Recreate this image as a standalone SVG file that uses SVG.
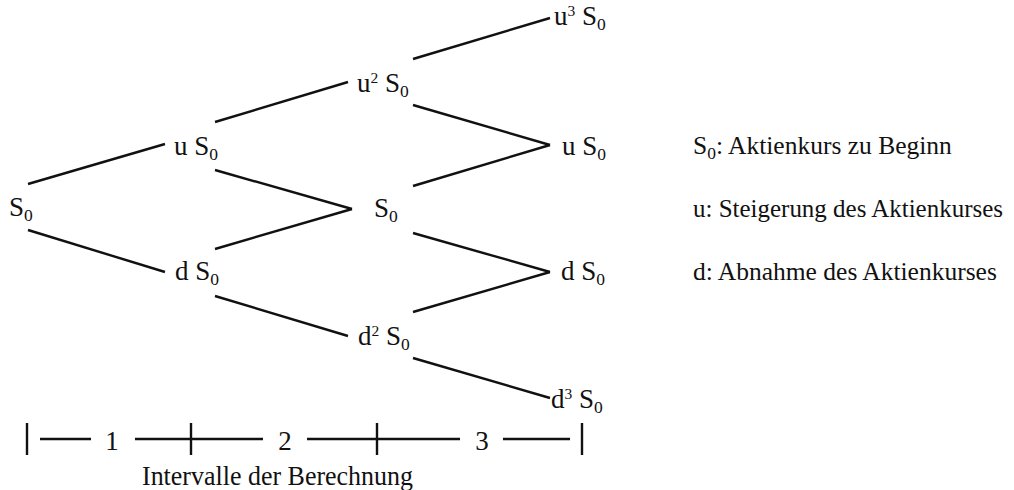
<svg xmlns="http://www.w3.org/2000/svg" width="1014" height="490" viewBox="0 0 1014 490">
<style>
text{font-family:"Liberation Serif","Times New Roman",serif;font-size:27px;fill:#111}
.s{font-size:17.5px}
.p{font-size:15.5px}
.lg{font-size:25.5px}
line{stroke:#111;stroke-width:2.4;stroke-linecap:butt}
</style>
<rect width="1014" height="490" fill="#fff"/>
<g id="connectors">
<line x1="28" y1="184" x2="165" y2="144"/>
<line x1="28" y1="230" x2="165" y2="272"/>
<line x1="215" y1="122" x2="348" y2="82"/>
<line x1="215" y1="170" x2="352" y2="209"/>
<line x1="215" y1="249" x2="352" y2="209"/>
<line x1="215" y1="296" x2="348" y2="336"/>
<line x1="413" y1="59" x2="550" y2="18"/>
<line x1="413" y1="105" x2="550" y2="145"/>
<line x1="413" y1="186" x2="550" y2="145"/>
<line x1="413" y1="233" x2="550" y2="272"/>
<line x1="413" y1="312" x2="550" y2="272"/>
<line x1="413" y1="358" x2="550" y2="398"/>
</g>
<g id="n-s0"><text x="9" y="216">S<tspan class="s" dy="5">0</tspan></text></g>
<g id="n-us0"><text x="174" y="155">u S<tspan class="s" dy="5">0</tspan></text></g>
<g id="n-ds0"><text x="175" y="280">d S<tspan class="s" dy="5">0</tspan></text></g>
<g id="n-u2s0"><text x="357" y="92">u<tspan class="p" dy="-9">2</tspan><tspan dy="9"> S</tspan><tspan class="s" dy="5">0</tspan></text></g>
<g id="n-s0mid"><text x="374" y="217">S<tspan class="s" dy="5">0</tspan></text></g>
<g id="n-d2s0"><text x="358" y="345">d<tspan class="p" dy="-9">2</tspan><tspan dy="9"> S</tspan><tspan class="s" dy="5">0</tspan></text></g>
<g id="n-u3s0"><text x="554" y="25">u<tspan class="p" dy="-9">3</tspan><tspan dy="9"> S</tspan><tspan class="s" dy="5">0</tspan></text></g>
<g id="n-us0r"><text x="562" y="155">u S<tspan class="s" dy="5">0</tspan></text></g>
<g id="n-ds0r"><text x="561" y="280">d S<tspan class="s" dy="5">0</tspan></text></g>
<g id="n-d3s0"><text x="551" y="408">d<tspan class="p" dy="-9">3</tspan><tspan dy="9"> S</tspan><tspan class="s" dy="5">0</tspan></text></g>
<g id="legend">
<text class="lg" x="693" y="154">S<tspan class="s" dy="5">0</tspan><tspan dy="-5">: Aktienkurs zu Beginn</tspan></text>
<text class="lg" x="693" y="217" textLength="310" lengthAdjust="spacingAndGlyphs">u: Steigerung des Aktienkurses</text>
<text class="lg" x="693" y="280">d: Abnahme des Aktienkurses</text>
</g>
<g id="axis">
<line x1="27" y1="423" x2="27" y2="455"/>
<line x1="191" y1="423" x2="191" y2="455"/>
<line x1="377" y1="423" x2="377" y2="455"/>
<line x1="582" y1="423" x2="582" y2="455"/>
<line x1="40" y1="439" x2="91" y2="439"/>
<line x1="135" y1="439" x2="263" y2="439"/>
<line x1="307" y1="439" x2="460" y2="439"/>
<line x1="503" y1="439" x2="570" y2="439"/>
<text x="112" y="450" text-anchor="middle">1</text>
<text x="285" y="450" text-anchor="middle">2</text>
<text x="482" y="450" text-anchor="middle">3</text>
<text x="142" y="485" textLength="271" lengthAdjust="spacingAndGlyphs">Intervalle der Berechnung</text>
</g>
</svg>
